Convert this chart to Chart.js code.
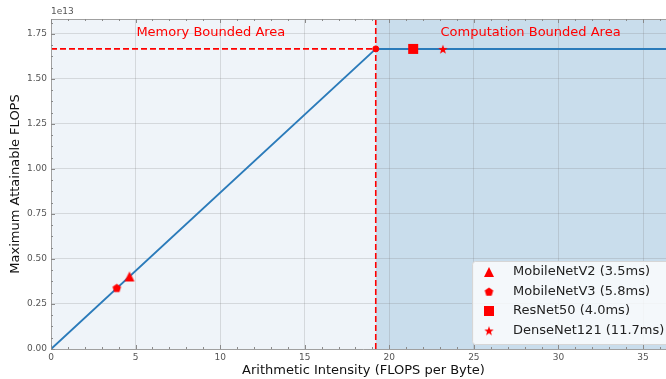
<!DOCTYPE html>
<html>
<head>
<meta charset="utf-8">
<script src="https://cdn.jsdelivr.net/npm/chart.js@4/dist/chart.umd.min.js"></script>
<style>
  html, body { margin: 0; padding: 0; overflow: hidden; background: #fff; }
  canvas { display: block; }
</style>
</head>
<body>
<canvas id="roofline" width="681" height="379"></canvas>
<script>
// Roofline data
const modelNames = ['MobileNetV2 (3.5ms)', 'MobileNetV3 (5.8ms)', 'ResNet50 (4.0ms)', 'DenseNet121 (11.7ms)'];
const modelIntensity = [4.64, 3.89, 21.41, 23.17];
const modelFlops = [0.403e13, 0.34e13, 1.667e13, 1.667e13];
const modelShapes = ['triangle', 'pentagon', 'square', 'star'];
const peakFlops = 1.667e13;
const ridgeIntensity = 19.2;
const xMaxValue = 36.95;
const yMaxValue = 1.833e13;
const xTickValues = [0, 5, 10, 15, 20, 25, 30, 35];
const yTickValues = [0, 0.25e13, 0.5e13, 0.75e13, 1.0e13, 1.25e13, 1.5e13, 1.75e13];
const regionLabels = ['Memory Bounded Area', 'Computation Bounded Area'];

const FONT = '"DejaVu Sans", sans-serif';
const RED = '#ff0000';

// Build marker images (pentagon / star are not built into Chart.js)
function makeMarker(shape, size) {
    const c = document.createElement('canvas');
    c.width = size + 2;
    c.height = size + 2;
    const g = c.getContext('2d');
    const cx = c.width / 2, cy = c.height / 2, r = size / 2;
    g.fillStyle = RED;
    g.beginPath();
    if (shape === 'triangle') {
        g.moveTo(cx, cy - r);
        g.lineTo(cx + r, cy + r);
        g.lineTo(cx - r, cy + r);
    } else if (shape === 'square') {
        g.rect(cx - r, cy - r, size, size);
    } else if (shape === 'pentagon') {
        for (let i = 0; i < 5; i++) {
            const a = -Math.PI / 2 + i * 2 * Math.PI / 5;
            g.lineTo(cx + r * Math.cos(a), cy + r * Math.sin(a) + 0.5);
        }
    } else if (shape === 'star') {
        for (let i = 0; i < 10; i++) {
            const a = -Math.PI / 2 + i * Math.PI / 5;
            const rr = i % 2 === 0 ? r : r * 0.4;
            g.lineTo(cx + rr * Math.cos(a), cy + rr * Math.sin(a) + 0.7);
        }
    }
    g.closePath();
    g.fill();
    return c;
}
const markerSizes = { triangle: 10, pentagon: 9, square: 10, star: 10 };
const markers = modelShapes.map(s => makeMarker(s, markerSizes[s]));

// Shaded regions behind the grid
const regionsPlugin = {
    id: 'regions',
    beforeDraw(chart) {
        const { ctx, chartArea: a, scales: { x } } = chart;
        const xr = x.getPixelForValue(ridgeIntensity);
        ctx.save();
        ctx.fillStyle = '#eff4f9';
        ctx.fillRect(a.left, a.top, xr - a.left, a.bottom - a.top);
        ctx.fillStyle = '#c9ddec';
        ctx.fillRect(xr, a.top, a.right - xr, a.bottom - a.top);
        ctx.restore();
    }
};

// Spines, inward ticks, offset text, region labels, legend
const decorPlugin = {
    id: 'decor',
    afterDraw(chart) {
        const { ctx, chartArea: a, scales: { x, y } } = chart;
        ctx.save();

        // spines
        ctx.strokeStyle = '#a0a0a0';
        ctx.lineWidth = 1;
        ctx.beginPath();
        ctx.moveTo(a.left + 0.5, a.top); ctx.lineTo(a.left + 0.5, a.bottom);
        ctx.moveTo(a.left, a.bottom + 0.5); ctx.lineTo(a.right, a.bottom + 0.5);
        ctx.moveTo(a.left, a.top + 0.5); ctx.lineTo(a.right, a.top + 0.5);
        ctx.stroke();

        // ticks (major + minor, pointing inward)
        ctx.strokeStyle = '#8a8a8a';
        ctx.beginPath();
        for (let v = 0; v <= xMaxValue; v += 1) {
            const px = Math.round(x.getPixelForValue(v)) + 0.5;
            const len = v % 5 === 0 ? 4 : 2;
            ctx.moveTo(px, a.bottom); ctx.lineTo(px, a.bottom - len);
            ctx.moveTo(px, a.top); ctx.lineTo(px, a.top + len);
        }
        for (let i = 0; i * 0.0625e13 <= yMaxValue; i++) {
            const py = Math.round(y.getPixelForValue(i * 0.0625e13)) + 0.5;
            const len = i % 4 === 0 ? 4 : 2;
            ctx.moveTo(a.left, py); ctx.lineTo(a.left + len, py);
        }
        ctx.stroke();

        // offset text
        ctx.fillStyle = '#555';
        ctx.font = '9px ' + FONT;
        ctx.textAlign = 'left';
        ctx.textBaseline = 'bottom';
        ctx.fillText('1e13', a.left, a.top - 3);

        // region labels
        ctx.fillStyle = RED;
        ctx.font = '13px ' + FONT;
        ctx.textAlign = 'center';
        ctx.textBaseline = 'middle';
        const ty = y.getPixelForValue(1.755e13);
        ctx.fillText(regionLabels[0], x.getPixelForValue(9.45), ty);
        ctx.fillText(regionLabels[1], x.getPixelForValue(28.35), ty);

        // legend box
        const bw = 197, bh = 83;
        const bx = a.right - 7 - bw, by = a.bottom - 5 - bh;
        ctx.fillStyle = 'rgba(255,255,255,0.8)';
        ctx.strokeStyle = '#d6d6d6';
        ctx.beginPath();
        ctx.roundRect(bx + 0.5, by + 0.5, bw, bh, 3);
        ctx.fill();
        ctx.stroke();
        ctx.textAlign = 'left';
        ctx.fillStyle = '#222';
        modelNames.forEach((name, i) => {
            const ry = by + 11 + i * 19.5;
            const m = markers[i];
            ctx.drawImage(m, bx + 17 - m.width / 2, ry - m.height / 2);
            ctx.fillText(name, bx + 41, ry);
        });
        ctx.restore();
    }
};

const modelDatasets = modelNames.map((name, i) => ({
    label: name,
    data: [{ x: modelIntensity[i], y: modelFlops[i] }],
    pointStyle: markers[i],
    showLine: false,
    order: 0
}));

new Chart(document.getElementById('roofline'), {
    type: 'scatter',
    data: {
        datasets: [
            ...modelDatasets,
            {
                label: 'ridge',
                data: [{ x: ridgeIntensity, y: peakFlops }],
                pointStyle: 'circle',
                pointRadius: 3,
                backgroundColor: RED,
                borderColor: RED,
                showLine: false,
                order: 1
            },
            {
                label: 'roofline',
                data: [{ x: 0, y: 0 }, { x: ridgeIntensity, y: peakFlops }, { x: xMaxValue, y: peakFlops }],
                showLine: true,
                borderColor: '#2b7bba',
                borderWidth: 2,
                pointRadius: 0,
                order: 3
            },
            {
                label: 'peak',
                data: [{ x: 0, y: peakFlops }, { x: ridgeIntensity, y: peakFlops }],
                showLine: true,
                borderColor: RED,
                borderWidth: 1.6,
                borderDash: [6, 3],
                pointRadius: 0,
                order: 2
            },
            {
                label: 'ridgeLine',
                data: [{ x: ridgeIntensity, y: 0 }, { x: ridgeIntensity, y: yMaxValue }],
                showLine: true,
                borderColor: RED,
                borderWidth: 1.6,
                borderDash: [6, 3],
                pointRadius: 0,
                order: 2
            }
        ]
    },
    options: {
        responsive: false,
        animation: false,
        layout: { padding: { top: 19, right: 1, bottom: 0, left: 0 } },
        plugins: {
            legend: { display: false },
            tooltip: { enabled: false }
        },
        scales: {
            x: {
                type: 'linear',
                min: 0,
                max: xMaxValue,
                afterFit(scale) { scale.height = 30; },
                afterBuildTicks(scale) { scale.ticks = xTickValues.map(v => ({ value: v })); },
                grid: { color: 'rgba(120,120,120,0.22)', drawTicks: false },
                border: { display: false },
                ticks: { color: '#555', font: { family: FONT, size: 9 }, padding: 3, maxRotation: 0 },
                title: {
                    display: true,
                    text: 'Arithmetic Intensity (FLOPS per Byte)',
                    color: '#111',
                    font: { family: FONT, size: 13 },
                    padding: { top: 0, bottom: 1 }
                }
            },
            y: {
                type: 'linear',
                min: 0,
                max: yMaxValue,
                afterFit(scale) { scale.width = 51; },
                afterBuildTicks(scale) { scale.ticks = yTickValues.map(v => ({ value: v })); },
                grid: { color: 'rgba(120,120,120,0.22)', drawTicks: false },
                border: { display: false },
                ticks: {
                    color: '#555',
                    font: { family: FONT, size: 9 },
                    padding: 4,
                    callback: v => (v / 1e13).toFixed(2)
                },
                title: {
                    display: true,
                    text: 'Maximum Attainable FLOPS',
                    color: '#111',
                    font: { family: FONT, size: 13 },
                    padding: { top: 8, bottom: 0 }
                }
            }
        }
    },
    plugins: [regionsPlugin, decorPlugin]
});
</script>
</body>
</html>
